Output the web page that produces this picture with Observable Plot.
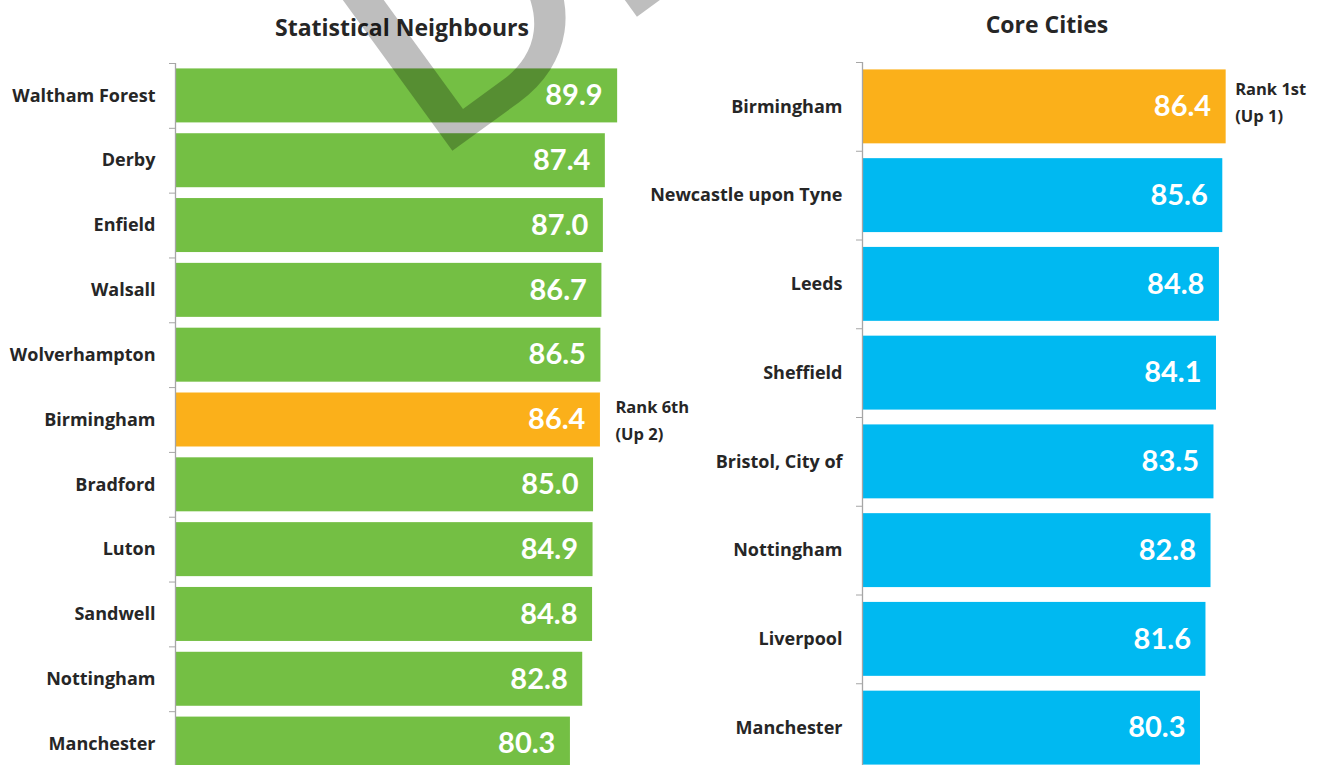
<!DOCTYPE html>
<html>
<head>
<meta charset="utf-8">
<script src="https://cdn.jsdelivr.net/npm/d3@7"></script>
<script src="https://cdn.jsdelivr.net/npm/@observablehq/plot@0.6"></script>
<style>
  html, body { margin: 0; padding: 0; background: #fff; overflow: hidden; }
  #page { position: relative; width: 1323px; height: 765px; overflow: hidden; }
  .panel { position: absolute; top: 0; }
  .title { position: absolute; font-family: "Open Sans", Lato, sans-serif; font-weight: bold; font-size: 23px; line-height: 23px; color: #262626; white-space: nowrap; transform: translateX(-50%); }
  #watermark { position: absolute; left: 0; top: 0; pointer-events: none; opacity: 0.25; }
</style>
</head>
<body>
<div id="page"></div>
<script>
// ---- data ----
const snTitle = "Statistical Neighbours";
const snCategories = ["Waltham Forest", "Derby", "Enfield", "Walsall", "Wolverhampton", "Birmingham", "Bradford", "Luton", "Sandwell", "Nottingham", "Manchester"];
const snValues = [89.9, 87.4, 87.0, 86.7, 86.5, 86.4, 85.0, 84.9, 84.8, 82.8, 80.3];
const snNote = "Rank 6th\n(Up 2)";

const ccTitle = "Core Cities";
const ccCategories = ["Birmingham", "Newcastle upon Tyne", "Leeds", "Sheffield", "Bristol, City of", "Nottingham", "Liverpool", "Manchester"];
const ccValues = [86.4, 85.6, 84.8, 84.1, 83.5, 82.8, 81.6, 80.3];
const ccNote = "Rank 1st\n(Up 1)";

const highlight = "Birmingham";
const watermarkText = "DRAFT";

// ---- style ----
const GREEN = "#74BF44", BLUE = "#00B9F1", ORANGE = "#FBB01A", AXIS = "#A6A6A6", INK = "#262626";
const LABEL_FONT = "'Open Sans', Lato, sans-serif", VALUE_FONT = "Lato, 'Open Sans', sans-serif";

function panel({cats, vals, color, note, width, height, marginLeft, marginTop, xMax, noteDx, noteDy}) {
  const data = cats.map((name, i) => ({name, value: vals[i]}));
  const step = (height - marginTop) / cats.length;
  return Plot.plot({
    width, height, marginLeft, marginTop, marginRight: 0, marginBottom: 0,
    style: {fontFamily: LABEL_FONT, fontWeight: "bold", background: "transparent", overflow: "visible"},
    x: {domain: [0, xMax], axis: null},
    y: {domain: cats, paddingInner: 0.167, paddingOuter: 0.0835, round: false, axis: null},
    marks: [
      Plot.barX(data, {x: "value", y: "name", fill: d => d.name === highlight ? ORANGE : color}),
      Plot.ruleX([0], {stroke: AXIS, strokeWidth: 1.3}),
      Plot.axisY({tickSize: 6, tickFormat: () => "", dy: -step / 2, stroke: AXIS, label: null}),
      Plot.axisY({tickSize: 0, tickPadding: 20, fontSize: 18, fill: INK, label: null}),
      Plot.text(data, {x: "value", y: "name", text: d => d.value.toFixed(1), textAnchor: "end", dx: -15, fill: "white", fontSize: 29, fontFamily: VALUE_FONT}),
      Plot.text(data.filter(d => d.name === highlight), {x: "value", y: "name", text: () => note, textAnchor: "start", dx: noteDx, dy: noteDy, fontSize: 16.5, lineHeight: 1.6, fill: INK})
    ]
  });
}

const page = document.getElementById("page");

const left = panel({cats: snCategories, vals: snValues, color: GREEN, note: snNote,
  width: 716, height: 776, marginLeft: 175, marginTop: 63, xMax: 110, noteDx: 15, noteDy: -2});
left.classList.add("panel"); left.style.left = "0px";
page.appendChild(left);

const right = panel({cats: ccCategories, vals: ccValues, color: BLUE, note: ccNote,
  width: 645, height: 772, marginLeft: 182, marginTop: 62, xMax: 110, noteDx: 9, noteDy: -7});
right.classList.add("panel"); right.style.left = "680px";
page.appendChild(right);

function addTitle(text, cx, top) {
  const t = document.createElement("div");
  t.className = "title"; t.textContent = text;
  t.style.left = cx + "px"; t.style.top = top + "px";
  page.appendChild(t);
}
addTitle(snTitle, 402, 15.5);
addTitle(ccTitle, 1047, 12.5);

// watermark (semi-transparent rotated text)
const ns = "http://www.w3.org/2000/svg";
const wm = document.createElementNS(ns, "svg");
wm.setAttribute("id", "watermark"); wm.setAttribute("width", 1323); wm.setAttribute("height", 765);
const wt = document.createElementNS(ns, "text");
wt.setAttribute("transform", "translate(450,150) rotate(-36)");
wt.setAttribute("x", -24);
wt.setAttribute("font-family", "Lato, sans-serif");
wt.setAttribute("font-size", 300);
wt.setAttribute("fill", "#000");
wt.setAttribute("stroke", "#000");
wt.setAttribute("stroke-width", 4);
wt.setAttribute("stroke-linejoin", "miter");
wt.textContent = watermarkText;
wm.appendChild(wt);
page.appendChild(wm);
</script>
</body>
</html>
